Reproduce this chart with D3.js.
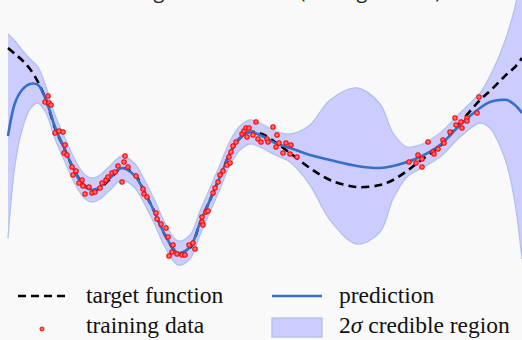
<!DOCTYPE html>
<html>
<head>
<meta charset="utf-8">
<script src="https://cdn.jsdelivr.net/npm/d3@7/dist/d3.min.js"></script>
<style>
  html, body { margin: 0; padding: 0; background: #f9f9f9; overflow: hidden; }
  svg { display: block; }
</style>
</head>
<body>
<div id="chart"></div>
<script>
// sample positions along the input axis
const xs = [-0.04, 0.10, 0.24, 0.40, 0.56, 0.72, 0.90, 1.10, 1.30, 1.50, 1.66, 1.80, 2.00, 2.24, 2.50,
  2.70, 2.90, 3.10, 3.36, 3.60, 3.80, 4.00, 4.20, 4.40, 4.60, 4.80, 5.04, 5.30, 5.60, 6.00,
  6.40, 6.94, 7.40, 7.66, 7.94, 8.20, 8.60, 9.00, 9.40, 9.60, 9.80, 9.94, 10.10, 10.24];

// GP posterior mean
const prediction = [0.28, 0.94, 1.20, 1.32, 1.30, 1.00, 0.46, 0.00, -0.44, -0.74, -0.80, -0.74, -0.56, -0.36, -0.52,
  -0.86, -1.26, -1.70, -2.06, -1.94, -1.46, -1.00, -0.54, -0.06, 0.24, 0.36, 0.28, 0.14, 0.04, -0.10,
  -0.20, -0.32, -0.36, -0.32, -0.24, -0.14, 0.10, 0.50, 0.84, 0.96, 1.00, 1.00, 0.90, 0.74];

// true function
const target = [2.04, 1.92, 1.80, 1.62, 1.36, 1.00, 0.44, 0.00, -0.44, -0.72, -0.80, -0.76, -0.58, -0.36, -0.50,
  -0.86, -1.26, -1.70, -2.06, -1.96, -1.46, -1.00, -0.54, -0.06, 0.24, 0.36, 0.32, 0.16, -0.06, -0.36,
  -0.60, -0.74, -0.70, -0.60, -0.42, -0.22, 0.08, 0.54, 1.00, 1.18, 1.38, 1.52, 1.66, 1.84];

// 2 sigma half width
const twoSigma = [2.04, 1.24, 0.80, 0.50, 0.36, 0.26, 0.24, 0.24, 0.24, 0.24, 0.24, 0.24, 0.24, 0.24, 0.24,
  0.24, 0.24, 0.24, 0.24, 0.24, 0.24, 0.24, 0.24, 0.24, 0.24, 0.24, 0.24, 0.24, 0.28, 0.60,
  1.20, 1.56, 1.28, 0.66, 0.30, 0.24, 0.24, 0.24, 0.30, 0.52, 0.92, 1.30, 1.96, 2.92];

// training data
const trainX = [0.76, 0.70, 0.78, 0.82, 0.90, 0.98, 1.06, 1.10, 1.08, 1.14, 1.24, 1.32, 1.26, 1.44, 1.38, 1.46,
  1.50, 1.58, 1.64, 1.70, 1.80, 1.84, 1.92, 1.96, 2.04, 2.10, 2.16, 2.28, 2.30, 2.36, 2.24, 2.52,
  2.66, 2.68, 2.74, 2.92, 2.94, 3.02, 3.12, 3.16, 3.26, 3.24, 3.18, 3.34, 3.44, 3.50, 3.58, 3.66, 3.70,
  3.84, 3.86, 3.84, 3.92, 3.96, 4.06, 4.10, 4.16, 4.20, 4.26, 4.34, 4.38, 4.40, 4.42, 4.46, 4.52,
  4.64, 4.68, 4.72, 4.78, 4.74, 4.86, 4.92, 4.96, 5.02, 5.14, 5.16, 5.26, 5.34, 5.32, 5.38, 5.46,
  5.52, 5.62, 5.60, 5.74,
  7.98, 8.16, 8.12, 8.24, 8.24, 8.36, 8.46, 8.48, 8.56, 8.66, 8.68, 8.80, 8.90, 8.92, 9.02, 9.04,
  9.14, 9.14, 9.34, 9.38];
const trainY = [1.08, 0.96, 0.94, 0.90, 0.34, 0.38, 0.36, 0.10, -0.06, -0.10, -0.34, -0.42, -0.50, -0.60, -0.66, -0.72,
  -0.88, -0.74, -0.86, -0.84, -0.76, -0.66, -0.60, -0.54, -0.46, -0.44, -0.32, -0.24, -0.12, -0.34, -0.64, -0.52,
  -0.78, -0.88, -0.94, -1.26, -1.38, -1.48, -1.56, -1.74, -1.90, -2.04, -2.12, -2.08, -2.10, -2.10, -1.90, -1.86, -1.98,
  -1.44, -1.50, -1.34, -1.24, -1.22, -0.86, -0.76, -0.64, -0.50, -0.42, -0.30, -0.14, -0.26, -0.04, 0.08, 0.16,
  0.32, 0.38, 0.44, 0.44, 0.26, 0.30, 0.56, 0.22, 0.16, 0.22, 0.16, 0.46, 0.30, 0.06, 0.14, -0.06,
  0.14, 0.10, -0.08, -0.14,
  -0.24, -0.10, -0.26, -0.34, -0.18, 0.16, -0.04, -0.08, 0.02, 0.20, 0.14, 0.36, 0.64, 0.50, 0.56, 0.44,
  0.64, 0.58, 0.74, 1.06];

const legendLabels = ['target function', 'prediction', 'training data', 'credible region'];

const width = 522, height = 340;
const serif = "'Liberation Serif'";

const svg = d3.select('#chart').append('svg')
  .attr('width', width)
  .attr('height', height);

svg.append('rect').attr('width', width).attr('height', height).attr('fill', '#f9f9f9');

// title, cropped off at the top (only descenders show)
svg.append('text')
  .attr('x', 262).attr('y', -2)
  .attr('text-anchor', 'middle')
  .style('font-family', "'Open Sans'")
  .style('font-size', '20px')
  .style('fill', '#222')
  .text('Learning a 1D function (GP regression)');

const x = d3.scaleLinear().domain([-0.04, 10.24]).range([8, 522]);
const y = d3.scaleLinear().domain([-3, 3]).range([300, 0]);

const rows = xs.map((d, i) => ({ x: d, mu: prediction[i], f: target[i], s: twoSigma[i] }));
const curve = d3.curveCatmullRom.alpha(0.5);

const plot = svg.append('g');

// credible band
plot.append('path')
  .datum(rows)
  .attr('fill', '#ccccff')
  .attr('d', d3.area().curve(curve)
    .x(d => x(d.x))
    .y0(d => y(d.mu - d.s))
    .y1(d => y(d.mu + d.s)));

[1, -1].forEach(sign => {
  plot.append('path')
    .datum(rows)
    .attr('fill', 'none')
    .attr('stroke', '#b0c2e8')
    .attr('stroke-width', 1.3)
    .attr('d', d3.line().curve(curve)
      .x(d => x(d.x))
      .y(d => y(d.mu + sign * d.s)));
});

// target function
plot.append('path')
  .datum(rows)
  .attr('fill', 'none')
  .attr('stroke', '#000')
  .attr('stroke-width', 2.6)
  .attr('stroke-dasharray', '8,5')
  .attr('d', d3.line().curve(curve).x(d => x(d.x)).y(d => y(d.f)));

// prediction
plot.append('path')
  .datum(rows)
  .attr('fill', 'none')
  .attr('stroke', '#3470c6')
  .attr('stroke-width', 2.6)
  .attr('d', d3.line().curve(curve).x(d => x(d.x)).y(d => y(d.mu)));

// training points
plot.selectAll('circle.train')
  .data(trainX.map((d, i) => [d, trainY[i]]))
  .join('circle')
  .attr('class', 'train')
  .attr('cx', d => x(d[0]))
  .attr('cy', d => y(d[1]))
  .attr('r', 2.2)
  .attr('fill', '#ff7070')
  .attr('stroke', '#ff0000')
  .attr('stroke-width', 1.1);

// legend
const legend = svg.append('g');
const addText = (tx, ty) => legend.append('text')
  .attr('x', tx).attr('y', ty)
  .style('font-family', serif)
  .style('font-size', '23.5px')
  .style('fill', '#111');

legend.append('line')
  .attr('x1', 18).attr('x2', 66).attr('y1', 296).attr('y2', 296)
  .attr('stroke', '#000').attr('stroke-width', 2.6).attr('stroke-dasharray', '8,5');
addText(86, 303).text(legendLabels[0]);

legend.append('line')
  .attr('x1', 272).attr('x2', 322).attr('y1', 296).attr('y2', 296)
  .attr('stroke', '#3470c6').attr('stroke-width', 2.6);
addText(339, 303).text(legendLabels[1]);

legend.append('circle')
  .attr('cx', 42).attr('cy', 329).attr('r', 2)
  .attr('fill', '#ff7070').attr('stroke', '#ff0000').attr('stroke-width', 1);
addText(86, 333).text(legendLabels[2]);

legend.append('rect')
  .attr('x', 272).attr('y', 318).attr('width', 50).attr('height', 19)
  .attr('fill', '#ccccff').attr('stroke', '#b0c2e8').attr('stroke-width', 1.3);
const lab = addText(339, 333);
lab.append('tspan').text('2');
lab.append('tspan').style('font-style', 'italic').text('σ');
lab.append('tspan').text(' ' + legendLabels[3]);
</script>
</body>
</html>
